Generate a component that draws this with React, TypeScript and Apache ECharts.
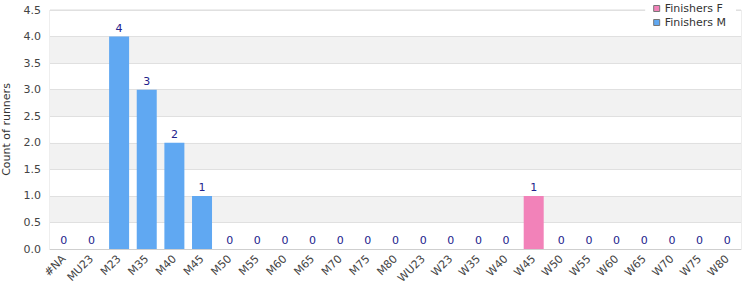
import React, { useEffect, useRef } from "react";
import * as echarts from "echarts";

const categories = ["#NA","MU23","M23","M35","M40","M45","M50","M55","M60","M65","M70","M75","M80","WU23","W23","W35","W40","W45","W50","W55","W60","W65","W70","W75","W80"];
const finishersF = [0,0,0,0,0,0,0,0,0,0,0,0,0,0,0,0,0,1,0,0,0,0,0,0,0];
const finishersM = [0,0,4,3,2,1,0,0,0,0,0,0,0,0,0,0,0,0,0,0,0,0,0,0,0];
const yTicks = [0, 0.5, 1.0, 1.5, 2.0, 2.5, 3.0, 3.5, 4.0, 4.5];

const FONT = "DejaVu Sans, Verdana, sans-serif";

export default function App() {
  const ref = useRef<HTMLDivElement>(null);
  useEffect(() => {
    document.body.style.margin = "0";
    const chart = echarts.init(ref.current!, null, { renderer: "svg" });
    chart.setOption({
      animation: false,
      textStyle: { fontFamily: FONT },
      grid: { left: 50, right: 9, top: 10, bottom: 51, show: true, borderColor: "#dcdcdc", borderWidth: 1, backgroundColor: "transparent", containLabel: false, outerBoundsMode: "none" },
      legend: {
        orient: "vertical",
        right: 14,
        top: 1,
        backgroundColor: "#fff",
        padding: [2, 10, 2, 8],
        itemGap: 3,
        itemWidth: 6,
        itemHeight: 6,
        icon: "rect",
        itemStyle: { borderColor: "#777", borderWidth: 1 },
        textStyle: { fontSize: 11, color: "#333", fontFamily: FONT },
        data: ["Finishers F", "Finishers M"],
      },
      xAxis: {
        type: "category",
        data: categories,
        axisLine: { lineStyle: { color: "#cfcfcf" } },
        axisTick: { show: false },
        axisLabel: { rotate: 45, fontSize: 11, color: "#444", interval: 0, margin: 8, fontFamily: FONT },
      },
      yAxis: {
        type: "value",
        min: yTicks[0],
        max: yTicks[yTicks.length - 1],
        interval: 0.5,
        name: "Count of runners",
        nameLocation: "middle",
        nameGap: 38,
        nameTextStyle: { fontSize: 11, color: "#333", fontFamily: FONT },
        axisLine: { show: false },
        axisTick: { show: false },
        axisLabel: { fontSize: 11, color: "#444", margin: 9, formatter: (v: number) => v.toFixed(1), fontFamily: FONT },
        splitLine: { lineStyle: { color: "#e0e0e0" } },
        splitArea: { show: true, areaStyle: { color: ["#ffffff", "#f2f2f2"] } },
      },
      series: [
        {
          name: "Finishers F",
          type: "bar",
          stack: "total",
          data: finishersF,
          barWidth: 20,
          itemStyle: { color: "#f282b9" },
        },
        {
          name: "Finishers M",
          type: "bar",
          stack: "total",
          data: finishersM,
          barWidth: 20,
          itemStyle: { color: "#60a8f2" },
          label: {
            show: true,
            position: "top",
            distance: 3,
            fontSize: 11,
            color: "#22228c",
            fontFamily: FONT,
            formatter: (p: any) => String(finishersF[p.dataIndex] + finishersM[p.dataIndex]),
          },
        },
      ],
    });
    return () => chart.dispose();
  }, []);
  return <div ref={ref} style={{ width: 750, height: 300 }} />;
}
